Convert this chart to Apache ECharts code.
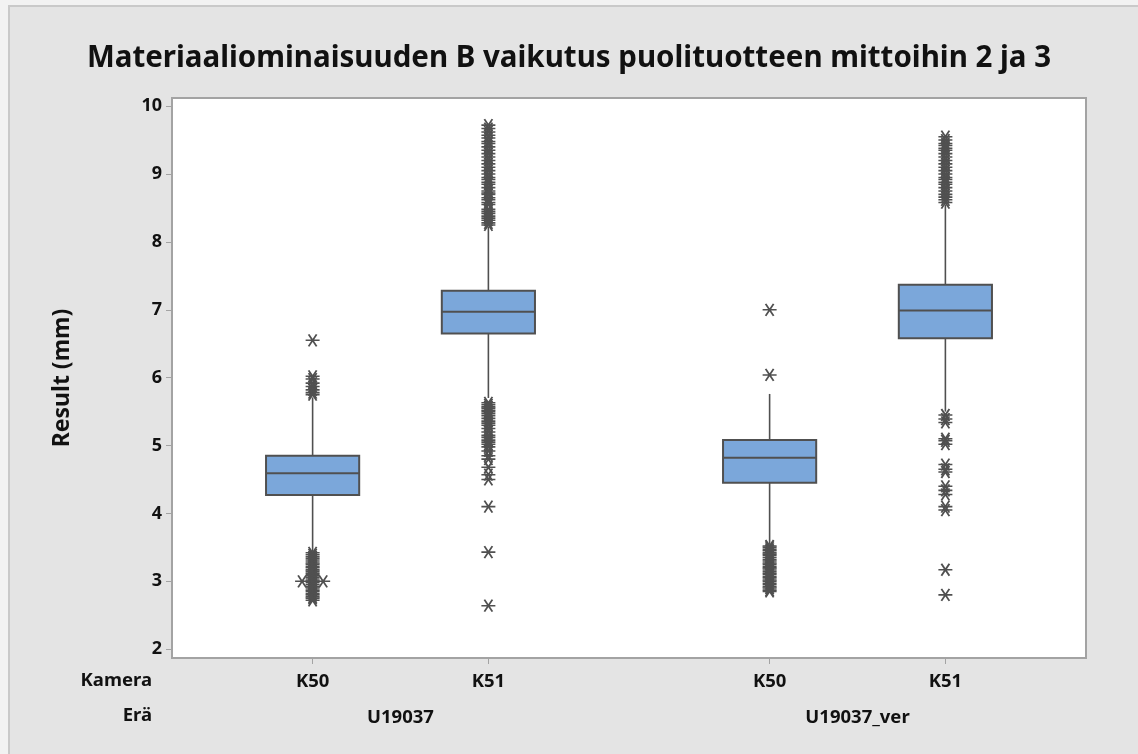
<!DOCTYPE html>
<html>
<head>
<meta charset="utf-8">
<script src="https://cdn.jsdelivr.net/npm/echarts@6/dist/echarts.min.js"></script>
<style>
  html, body { margin: 0; padding: 0; background: #f2f2f2; }
  #wrap { position: relative; width: 1138px; height: 754px; overflow: hidden; }
  #frame { position: absolute; left: 8px; top: 5px; width: 1200px; height: 800px;
           background: #e4e4e4; border-left: 2px solid #c9c9c9; border-top: 2px solid #c9c9c9; }
  #chart { position: absolute; left: 0; top: 0; width: 1138px; height: 754px; }
</style>
</head>
<body>
<div id="wrap"><div id="frame"></div><div id="chart"></div></div>
<script>
// Grouping: camera within batch
const kamera = ['K50', 'K51', 'K50', 'K51'];
const era = ['U19037', 'U19037_ver'];
const eraOf = [0, 0, 1, 1];
// Positions along the x axis (batches separated by a wider gap)
const xPos = [1, 2, 3.6, 4.6];

// Box statistics: [lower whisker, Q1, median, Q3, upper whisker]
const boxStats = [
  [3.44, 4.27, 4.59, 4.85, 5.71],
  [5.70, 6.65, 6.97, 7.28, 8.22],
  [3.55, 4.45, 4.82, 5.08, 5.76],
  [5.50, 6.58, 6.99, 7.37, 8.55]
];

// Outliers per group
const outliers = [
  [6.55, 6.02, 5.98, 5.92, 5.87, 5.82, 5.78, 5.75,
   3.42, 3.39, 3.36, 3.33, 3.30, 3.27, 3.25, 3.22, 3.20, 3.17, 3.15, 3.12, 3.10, 3.08,
   3.05, 3.02, 3.00, 2.98, 2.95, 2.92, 2.90, 2.87, 2.85, 2.82, 2.80, 2.77, 2.75, 2.72],
  [9.72, 9.67, 9.62, 9.57, 9.53, 9.48, 9.45, 9.40, 9.35, 9.30, 9.25, 9.20, 9.15, 9.10,
   9.05, 9.00, 8.95, 8.92, 8.88, 8.85, 8.80, 8.75, 8.72, 8.70, 8.65, 8.62, 8.58, 8.55,
   8.48, 8.45, 8.42, 8.38, 8.35, 8.32, 8.28, 8.25,
   5.63, 5.60, 5.57, 5.55, 5.52, 5.50, 5.47, 5.44, 5.40, 5.36, 5.33, 5.30, 5.25, 5.20,
   5.15, 5.12, 5.08, 5.05, 5.02, 4.98, 4.92, 4.85, 4.80, 4.68, 4.57, 4.50, 4.10, 3.43, 2.64],
  [7.00, 6.04,
   3.52, 3.50, 3.47, 3.45, 3.42, 3.40, 3.38, 3.35, 3.32, 3.30, 3.27, 3.25, 3.22, 3.20,
   3.18, 3.15, 3.12, 3.10, 3.07, 3.05, 3.02, 3.00, 2.97, 2.95, 2.92, 2.90, 2.87, 2.85],
  [9.55, 9.50, 9.45, 9.42, 9.38, 9.35, 9.30, 9.25, 9.20, 9.15, 9.10, 9.05, 9.00, 8.95,
   8.92, 8.88, 8.85, 8.80, 8.75, 8.70, 8.66, 8.62, 8.58,
   5.45, 5.39, 5.34, 5.10, 5.07, 5.02, 4.72, 4.65, 4.61, 4.40, 4.34, 4.28, 4.10, 4.05, 3.17, 2.80]
];
// Repeated outlier values drawn side by side: [group, value]
const ties = [[0, 3.00]];

const yTicks = [2, 3, 4, 5, 6, 7, 8, 9, 10];

const FONT = '"Noto Sans", "Open Sans", sans-serif';
const INK = '#505050';
const BOX_FILL = '#7ba7da';
const BOX_WIDTH = 0.53;   // in x-axis units
const TIE_SHIFT = 0.06;

const boxData = xPos.map((x, i) => [x].concat(boxStats[i]));
const outlierData = [];
outliers.forEach((vals, i) => vals.forEach(v => outlierData.push([xPos[i], v])));
ties.forEach(([g, v]) => {
  outlierData.push([xPos[g] - TIE_SHIFT, v]);
  outlierData.push([xPos[g] + TIE_SHIFT, v]);
});

const eraCenters = era.map((_, e) => {
  const xs = xPos.filter((_, i) => eraOf[i] === e);
  return (Math.min(...xs) + Math.max(...xs)) / 2;
});

const asterisk = 'path://M0,6 L14,6 M3,0.5 L11,11.5 M3,11.5 L11,0.5';

function renderBox(params, api) {
  const x = api.value(0);
  const pLow = api.coord([x, api.value(1)]);
  const pQ1 = api.coord([x, api.value(2)]);
  const pMed = api.coord([x, api.value(3)]);
  const pQ3 = api.coord([x, api.value(4)]);
  const pHigh = api.coord([x, api.value(5)]);
  const half = api.size([BOX_WIDTH, 0])[0] / 2;
  const cx = pMed[0];
  const line = { stroke: INK, lineWidth: 1.6 };
  return {
    type: 'group',
    children: [
      { type: 'line', shape: { x1: cx, y1: pHigh[1], x2: cx, y2: pQ3[1] }, style: line },
      { type: 'line', shape: { x1: cx, y1: pQ1[1], x2: cx, y2: pLow[1] }, style: line },
      { type: 'rect', shape: { x: cx - half, y: pQ3[1], width: half * 2, height: pQ1[1] - pQ3[1] },
        style: { fill: BOX_FILL, stroke: INK, lineWidth: 2 } },
      { type: 'line', shape: { x1: cx - half, y1: pMed[1], x2: cx + half, y2: pMed[1] },
        style: { stroke: INK, lineWidth: 2 } }
    ]
  };
}

const chart = echarts.init(document.getElementById('chart'), null, { renderer: 'canvas' });
chart.setOption({
  backgroundColor: 'transparent',
  animation: false,
  title: {
    text: 'Materiaaliominaisuuden B vaikutus puolituotteen mittoihin 2 ja 3',
    left: 'center', top: 39,
    textStyle: { fontFamily: FONT, fontWeight: 'bold', fontSize: 29.5, color: '#111' }
  },
  grid: {
    left: 172, right: 52, top: 98, bottom: 96,
    show: true, backgroundColor: '#fff', borderColor: '#a3a3a3', borderWidth: 2
  },
  xAxis: [
    {
      type: 'value', min: 0.2, max: 5.4,
      axisLine: { show: false }, splitLine: { show: false },
      axisTick: { show: true, customValues: xPos, length: 6, lineStyle: { color: '#a3a3a3', width: 1 } },
      axisLabel: {
        customValues: xPos, margin: 14,
        formatter: v => kamera[xPos.indexOf(v)] || '',
        fontFamily: FONT, fontWeight: 'bold', fontSize: 18.5, color: '#111'
      }
    },
    {
      type: 'value', min: 0.2, max: 5.4, position: 'bottom',
      axisLine: { show: false }, splitLine: { show: false }, axisTick: { show: false },
      axisLabel: {
        customValues: eraCenters, margin: 50,
        formatter: v => era[eraCenters.indexOf(v)] || '',
        fontFamily: FONT, fontWeight: 'bold', fontSize: 18.5, color: '#111'
      }
    }
  ],
  yAxis: {
    type: 'value', min: 1.87, max: 10.12,
    name: 'Result (mm)', nameLocation: 'middle', nameGap: 98, nameRotate: 90,
    nameTextStyle: { fontFamily: FONT, fontWeight: 'bold', fontSize: 23, color: '#111' },
    axisLine: { show: false }, splitLine: { show: false },
    axisTick: { show: true, customValues: yTicks, length: 6, lineStyle: { color: '#a3a3a3', width: 1 } },
    axisLabel: {
      customValues: yTicks, margin: 10,
      fontFamily: FONT, fontWeight: 'bold', fontSize: 18, color: '#111'
    }
  },
  graphic: [
    { type: 'text', right: 1138 - 152, top: 671,
      style: { text: 'Kamera', font: 'bold 18.5px ' + FONT, fill: '#111', textAlign: 'right' } },
    { type: 'text', right: 1138 - 152, top: 706,
      style: { text: 'Erä', font: 'bold 18.5px ' + FONT, fill: '#111', textAlign: 'right' } }
  ],
  series: [
    {
      type: 'custom', xAxisIndex: 0, renderItem: renderBox, data: boxData,
      encode: { x: 0, y: [1, 2, 3, 4, 5] }, z: 2
    },
    {
      type: 'scatter', xAxisIndex: 0, data: outlierData,
      symbol: asterisk, symbolSize: [14, 12], z: 3,
      itemStyle: { color: 'rgba(0,0,0,0)', borderColor: INK, borderWidth: 1.7, opacity: 1 }
    }
  ]
});
</script>
</body>
</html>
